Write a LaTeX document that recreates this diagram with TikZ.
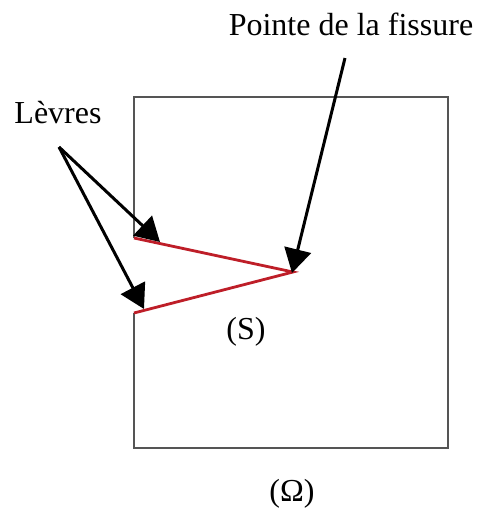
\documentclass[tikz,border=0pt]{standalone}
\usepackage{fontspec}
\setmainfont{Liberation Serif}
\usetikzlibrary{arrows.meta}
\definecolor{crackred}{RGB}{190,30,40}
\definecolor{boxgray}{RGB}{85,85,85}
\tikzset{
  lbl/.style={inner sep=0pt, anchor=base, font=\fontsize{32}{38}\selectfont},
  pointer/.style={line width=3pt, -{Triangle[length=24pt,width=27pt]}},
  boxline/.style={boxgray, line width=1.3pt},
  crack/.style={crackred, line width=2.8pt, line join=miter}
}
\begin{document}
\begin{tikzpicture}[x=1pt,y=-1pt]
\useasboundingbox (0,0) rectangle (484,509);
% domain boundary
\coordinate (lipA) at (134,238);
\coordinate (lipB) at (134,313);
\coordinate (tip) at (293,272);
\draw[boxline] (lipA) -- (134,97) -- (448,97) -- (448,448) -- (134,448) -- (lipB);
% crack
\draw[crack] (lipA) -- (tip) -- (lipB);
% labels
\node[lbl] (levres) at (58,123) {Lèvres};
\node[lbl] (pointe) at (351,35) {Pointe de la fissure};
\node[lbl] (S) at (246,339) {(S)};
\node[lbl] (omega) at (292,501) {(Ω)};
% arrows
\coordinate (lsrc) at (59,147);
\coordinate (psrc) at (345,58);
\coordinate (a1) at (160,242);
\coordinate (a2) at (144,309);
\coordinate (a3) at (292,273);
\draw[pointer] (lsrc) -- (a1);
\draw[pointer] (lsrc) -- (a2);
\draw[pointer] (psrc) -- (a3);
\end{tikzpicture}
\end{document}
